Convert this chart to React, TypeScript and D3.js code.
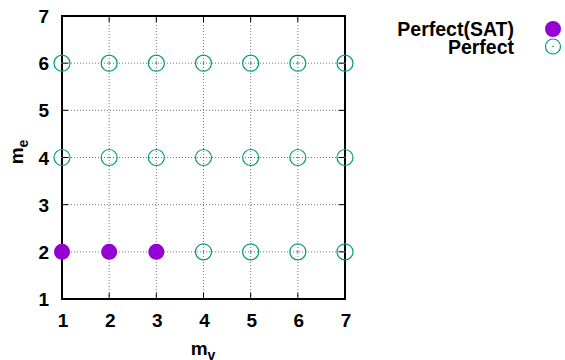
import * as d3 from 'd3';
import { useEffect, useRef } from 'react';

const xTicks = [1, 2, 3, 4, 5, 6, 7];
const yTicks = [1, 2, 3, 4, 5, 6, 7];
const satX = [1, 2, 3];
const satY = [2, 2, 2];
const perfX = [1, 2, 3, 4, 5, 6, 7, 1, 2, 3, 4, 5, 6, 7, 4, 5, 6, 7];
const perfY = [6, 6, 6, 6, 6, 6, 6, 4, 4, 4, 4, 4, 4, 4, 2, 2, 2, 2];
const legendLabels = ['Perfect(SAT)', 'Perfect'];

const PURPLE = '#9400d3';
const GREEN = '#009e73';
const FONT = '"Liberation Sans", Arial, sans-serif';

export default function App() {
  const ref = useRef<SVGSVGElement | null>(null);

  useEffect(() => {
    const svg = d3.select(ref.current);
    svg.selectAll('*').remove();
    const left = 62, right = 345, top = 16, bottom = 299;
    const x = d3.scaleLinear().domain([1, 7]).range([left, right]);
    const y = d3.scaleLinear().domain([1, 7]).range([bottom, top]);

    svg.append('rect').attr('width', 565).attr('height', 360).attr('fill', '#fff');

    // grid
    const grid = svg.append('g').attr('stroke', '#777').attr('stroke-width', 1).attr('stroke-dasharray', '1,2');
    grid.selectAll('line.gx').data(xTicks.slice(1, -1)).enter().append('line')
      .attr('x1', (d) => x(d)).attr('x2', (d) => x(d)).attr('y1', top).attr('y2', bottom);
    grid.selectAll('line.gy').data(yTicks.slice(1, -1)).enter().append('line')
      .attr('y1', (d) => y(d)).attr('y2', (d) => y(d)).attr('x1', left).attr('x2', right);

    // ticks (inward, both sides)
    const ticks = svg.append('g').attr('stroke', '#000').attr('stroke-width', 1);
    xTicks.forEach((t) => {
      ticks.append('line').attr('x1', x(t)).attr('x2', x(t)).attr('y1', bottom).attr('y2', bottom - 6);
      ticks.append('line').attr('x1', x(t)).attr('x2', x(t)).attr('y1', top).attr('y2', top + 6);
    });
    yTicks.forEach((t) => {
      ticks.append('line').attr('y1', y(t)).attr('y2', y(t)).attr('x1', left).attr('x2', left + 6);
      ticks.append('line').attr('y1', y(t)).attr('y2', y(t)).attr('x1', right).attr('x2', right - 6);
    });

    svg.append('rect').attr('x', left).attr('y', top).attr('width', right - left).attr('height', bottom - top)
      .attr('fill', 'none').attr('stroke', '#000').attr('stroke-width', 2);

    // tick labels
    svg.append('g').selectAll('text').data(xTicks).enter().append('text')
      .attr('x', (d) => x(d) + 1).attr('y', bottom + 28).attr('text-anchor', 'middle')
      .attr('font-family', FONT).attr('font-weight', 'bold').attr('font-size', 19).text((d) => d);
    svg.append('g').selectAll('text').data(yTicks).enter().append('text')
      .attr('x', left - 13).attr('y', (d) => y(d) + 7).attr('text-anchor', 'end')
      .attr('font-family', FONT).attr('font-weight', 'bold').attr('font-size', 19).text((d) => d);

    // axis titles
    const xl = svg.append('text').attr('x', 203).attr('y', 355).attr('text-anchor', 'middle')
      .attr('font-family', FONT).attr('font-weight', 'bold').attr('font-size', 19);
    xl.append('tspan').text('m');
    xl.append('tspan').attr('font-size', 14).attr('dy', 5).text('v');
    const yl = svg.append('text').attr('transform', `translate(23,152) rotate(-90)`)
      .attr('text-anchor', 'middle').attr('font-family', FONT).attr('font-weight', 'bold').attr('font-size', 19);
    yl.append('tspan').text('m');
    yl.append('tspan').attr('font-size', 14).attr('dy', 5).text('e');

    // points
    const open = svg.append('g');
    perfX.forEach((px, i) => {
      open.append('circle').attr('cx', x(px)).attr('cy', y(perfY[i])).attr('r', 8)
        .attr('fill', 'none').attr('stroke', GREEN).attr('stroke-width', 1.2);
      open.append('circle').attr('cx', x(px)).attr('cy', y(perfY[i])).attr('r', 0.8).attr('fill', GREEN);
    });
    svg.append('g').selectAll('circle').data(satX).enter().append('circle')
      .attr('cx', (d) => x(d)).attr('cy', (_d, i) => y(satY[i])).attr('r', 8).attr('fill', PURPLE);

    // legend
    const lg = svg.append('g');
    legendLabels.forEach((lab, i) => {
      const ly = 29 + i * 17.5;
      lg.append('text').attr('x', 514).attr('y', ly + 7).attr('text-anchor', 'end')
        .attr('font-family', FONT).attr('font-weight', 'bold').attr('font-size', 19.5).text(lab);
      if (i === 0) {
        lg.append('circle').attr('cx', 553).attr('cy', ly).attr('r', 8).attr('fill', PURPLE);
      } else {
        lg.append('circle').attr('cx', 553).attr('cy', ly).attr('r', 7.5)
          .attr('fill', 'none').attr('stroke', GREEN).attr('stroke-width', 1.2);
        lg.append('circle').attr('cx', 553).attr('cy', ly).attr('r', 0.8).attr('fill', GREEN);
      }
    });
  }, []);

  return (
    <svg ref={ref} width={565} height={360} style={{ position: 'absolute', left: 0, top: 0 }} />
  );
}
